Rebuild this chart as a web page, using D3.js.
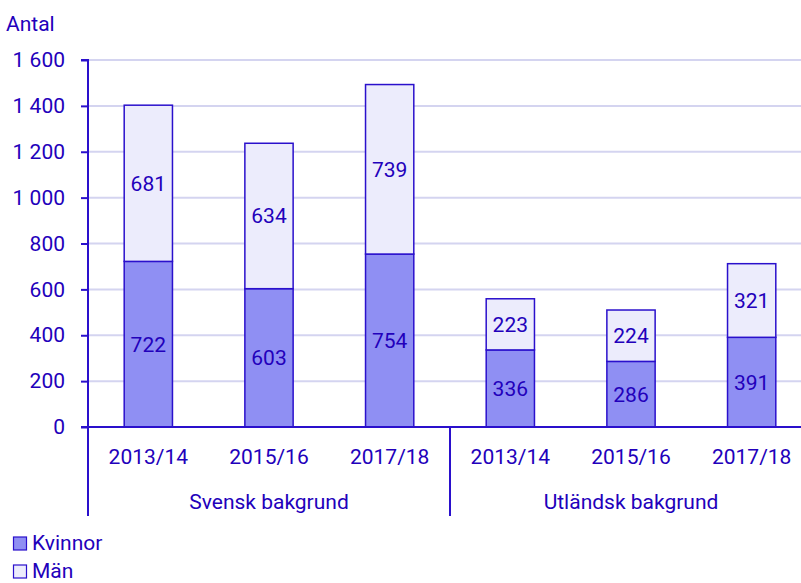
<!DOCTYPE html>
<html><head><meta charset="utf-8">
<script src="https://cdn.jsdelivr.net/npm/d3@7"></script>
<style>body{margin:0;background:#fff}svg{display:block}text{font-family:Roboto,sans-serif;fill:#2200bb}</style>
</head><body><svg id="c" width="801" height="583"></svg>
<script>
const groups = ["Svensk bakgrund", "Utländsk bakgrund"];
const periods = ["2013/14", "2015/16", "2017/18"];
const kvinnor = [722, 603, 754, 336, 286, 391];
const man = [681, 634, 739, 223, 224, 321];
const yTicks = [0, 200, 400, 600, 800, 1000, 1200, 1400, 1600];
const seriesNames = ["Kvinnor", "Män"];

const C = {text:"#2200bb", stroke:"#2a10cc", k:"#8f8ff3", m:"#ececfc", grid:"#d4d4f0"};
const svg = d3.select("#c");
const x0 = 88, x1 = 812, yTop = 60, yBot = 427;
const keys = [];
groups.forEach(g => periods.forEach(p => keys.push(g + "|" + p)));
const x = d3.scaleBand().domain(keys).range([x0, x1]).paddingInner(0.6).paddingOuter(0.3);
const y = d3.scaleLinear().domain([0, 1600]).range([yBot, yTop]);
const fs = 21;

// gridlines
svg.append("g").selectAll("line").data(yTicks.filter(d => d > 0)).join("line")
  .attr("x1", x0).attr("x2", 801).attr("y1", d => y(d)).attr("y2", d => y(d))
  .attr("stroke", C.grid).attr("stroke-width", 2);

// y axis
const ya = svg.append("g").attr("transform", `translate(${x0},0)`)
  .call(d3.axisLeft(y).tickValues(yTicks).tickSize(7).tickPadding(16)
    .tickFormat(d => d3.format(",")(d).replace(",", " ")));
ya.select(".domain").attr("stroke", C.stroke).attr("stroke-width", 2).attr("d", `M-7,${yTop}H0V${yBot}`);
ya.selectAll(".tick line").attr("stroke", C.stroke).attr("stroke-width", 2);
ya.selectAll(".tick text").attr("fill", C.text).style("font-size", fs + "px").attr("font-family", "Roboto");

svg.append("text").attr("x", 6).attr("y", 31).style("font-size", fs + "px").text("Antal");

// bars
const data = keys.map((k, i) => ({k, kv: kvinnor[i], m: man[i]}));
const bw = x.bandwidth();
const bars = svg.append("g");
data.forEach(d => {
  bars.append("rect").attr("x", x(d.k)).attr("width", bw)
    .attr("y", y(d.kv)).attr("height", y(0) - y(d.kv))
    .attr("fill", C.k).attr("stroke", C.stroke).attr("stroke-width", 1.5);
  bars.append("rect").attr("x", x(d.k)).attr("width", bw)
    .attr("y", y(d.kv + d.m)).attr("height", y(d.kv) - y(d.kv + d.m))
    .attr("fill", C.m).attr("stroke", C.stroke).attr("stroke-width", 1.5);
  bars.append("text").attr("x", x(d.k) + bw / 2).attr("y", y(d.kv / 2)).attr("dy", "0.35em")
    .attr("text-anchor", "middle").style("font-size", fs + "px").text(d.kv);
  bars.append("text").attr("x", x(d.k) + bw / 2).attr("y", y(d.kv + d.m / 2)).attr("dy", "0.35em")
    .attr("text-anchor", "middle").style("font-size", fs + "px").text(d.m);
});

// x axis
svg.append("line").attr("x1", x0 - 7).attr("x2", x1).attr("y1", yBot).attr("y2", yBot)
  .attr("stroke", C.stroke).attr("stroke-width", 2);
const xa = svg.append("g");
data.forEach(d => {
  xa.append("text").attr("x", x(d.k) + bw / 2).attr("y", 464).attr("text-anchor", "middle")
    .style("font-size", fs + "px").text(d.k.split("|")[1]);
});
const gw = (x1 - x0) / groups.length;
groups.forEach((g, i) => {
  xa.append("text").attr("x", x0 + gw * i + gw / 2).attr("y", 509).attr("text-anchor", "middle")
    .style("font-size", fs + "px").text(g);
});
[0, 1, 2].forEach(i => {
  xa.append("line").attr("x1", x0 + gw * i).attr("x2", x0 + gw * i).attr("y1", yBot).attr("y2", 516)
    .attr("stroke", C.stroke).attr("stroke-width", 2);
});

// legend
const lg = svg.append("g");
seriesNames.forEach((s, i) => {
  const yy = 550 + i * 28;
  lg.append("rect").attr("x", 13.5).attr("y", yy - 13).attr("width", 13).attr("height", 13)
    .attr("fill", i === 0 ? C.k : C.m).attr("stroke", C.stroke).attr("stroke-width", 1.2);
  lg.append("text").attr("x", 32).attr("y", yy).style("font-size", fs + "px").text(s);
});
</script></body></html>
